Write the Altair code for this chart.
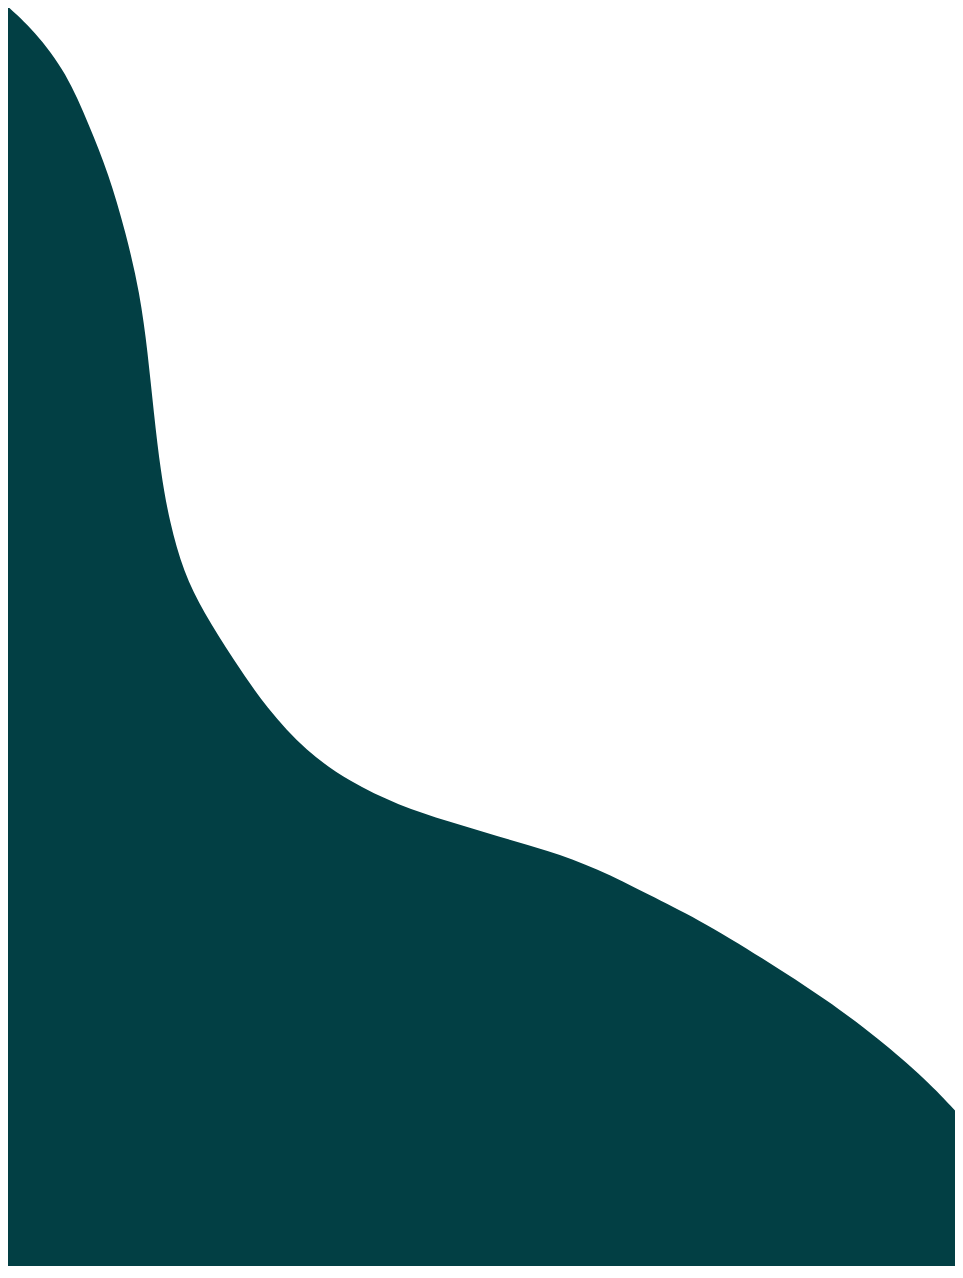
import altair as alt
import pandas as pd

# Boundary of the filled shape (x from left, y from bottom)
xs = [0, 30, 62, 85, 104, 122, 136, 144, 150, 157, 166, 180, 200, 230, 264, 304, 347, 397, 447, 497,
      547, 597, 650, 697, 764, 830, 880, 930, 958]
ys = [1274, 1247, 1205, 1152, 1105, 1044, 984, 924, 864, 804, 754, 704, 664, 617, 567, 524, 494, 470,
      454, 439, 425, 407, 380, 357, 317, 274, 237, 194, 164]

df = pd.DataFrame({"x": xs, "y": ys})

chart = (
    alt.Chart(df)
    .mark_area(color="#023f44", interpolate="basis", clip=True)
    .encode(
        x=alt.X("x:Q", axis=None, scale=alt.Scale(domain=[3, 958], nice=False, zero=False)),
        y=alt.Y("y:Q", axis=None, scale=alt.Scale(domain=[8, 1270], nice=False, zero=False)),
    )
    .properties(width=947, height=1258, padding=0)
    .configure_view(stroke=None)
)

chart.save("out.html", embed_options={"renderer": "svg", "actions": False})
